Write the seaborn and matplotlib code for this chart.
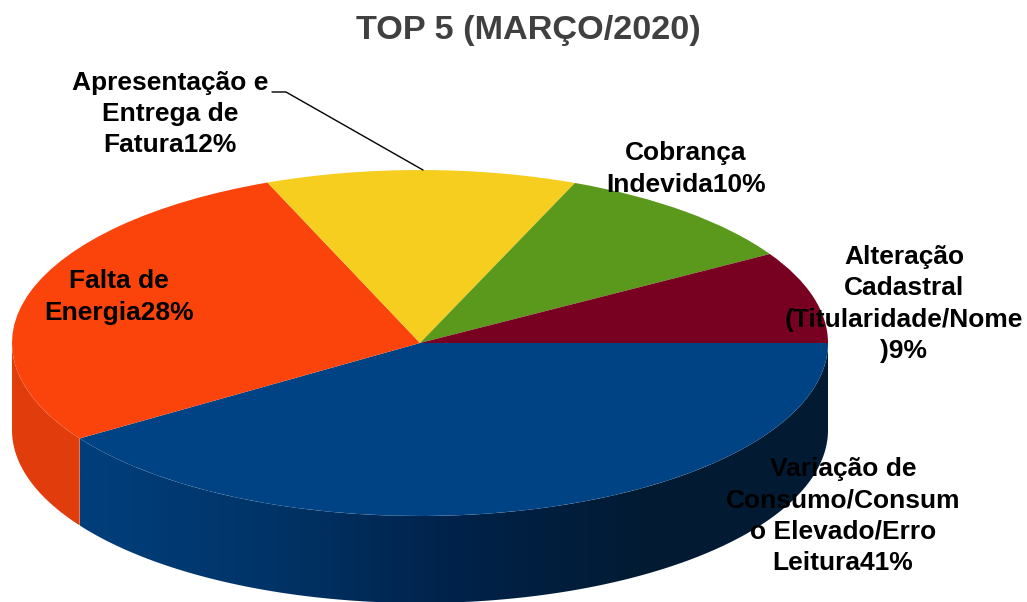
import numpy as np
import matplotlib
matplotlib.use('Agg')
import matplotlib.pyplot as plt
from matplotlib.patches import Polygon
import seaborn as sns

# --- DATOS ---
categorias = ['Variação de\nConsumo/Consum\no Elevado/Erro\nLeitura',
              'Falta de\nEnergia',
              'Apresentação e\nEntrega de\nFatura',
              'Cobrança\nIndevida',
              'Alteração\nCadastral\n(Titularidade/Nome\n)']
valores = [40.7, 28.2, 12.3, 10.2, 8.6]
colores = ['#004385', '#FA440C', '#F6CE1F', '#5A991C', '#780020']
titulo = 'TOP 5 (MARÇO/2020)'

# --- GEOMETRIA (pixeles de la imagen) ---
W, H = 1027, 602
CX, CY, RX, RY = 420, 343, 408, 173
GROSOR = 87 / RY


def px(x, y):
    return (x - CX) / RX, (CY - y) / RY


sns.set_theme(style='white')
plt.rcParams['font.family'] = ['Liberation Sans', 'DejaVu Sans']

fig = plt.figure(figsize=(W / 100, H / 100), dpi=100)
ax = fig.add_axes([0, 0, 1, 1])

wedges, _ = ax.pie(valores, colors=colores, startangle=0, counterclock=False,
                   radius=1, wedgeprops={'linewidth': 0, 'zorder': 3})
ax.set_aspect('auto')


def lateral(a0, a1):
    t = np.radians(np.linspace(a0, a1, 200))
    x, y = np.cos(t), np.sin(t)
    return np.r_[np.c_[x, y], np.c_[x, y - GROSOR][::-1]]


# Lateral visible: solo la mitad delantera (angulos de 0 a -180)
corte = -360 * valores[0] / sum(valores)

degradado = sns.blend_palette(['#003F7C', '#003468', '#00224A', '#021B33', '#021B33'],
                              as_cmap=True)
img = ax.imshow(np.linspace(0, 1, 400)[None, :], cmap=degradado, aspect='auto', zorder=1,
                extent=(np.cos(np.radians(corte)), 1, -1 - GROSOR, 0))
clip = Polygon(lateral(0, corte), transform=ax.transData, fc='none', ec='none')
ax.add_patch(clip)
img.set_clip_path(clip)

ax.add_patch(Polygon(lateral(corte, -180), fc='#E03C0C', ec='none', zorder=1))

ax.set_xlim(-CX / RX, (W - CX) / RX)
ax.set_ylim((CY - H) / RY, CY / RY)
ax.axis('off')

# --- TEXTOS ---
ax.text(*px(528, 30), titulo, fontsize=24.7, fontweight='bold', color='#404040',
        ha='center', va='center', zorder=5)

posiciones = [(843, 516), (119, 297), (170, 114), (686, 169), (904, 304)]
for nombre, valor, (x, y) in zip(categorias, valores, posiciones):
    ax.text(*px(x, y), f'{nombre}{valor:.0f}%', fontsize=19, fontweight='bold', color='black',
            ha='center', va='center', linespacing=1.37, zorder=5)

# Linea guia de Apresentação e Entrega de Fatura
guia = np.array([px(272, 92), px(286, 92), px(423, 170)])
ax.plot(guia[:, 0], guia[:, 1], color='black', lw=1, zorder=4)

fig.savefig('out.png', dpi=100, facecolor='white')
